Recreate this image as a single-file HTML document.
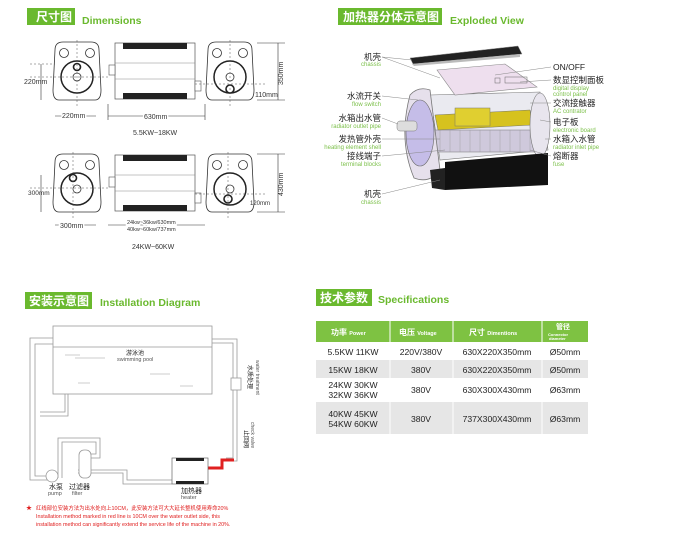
<!DOCTYPE html>
<html><head><meta charset="utf-8"><style>
body{margin:0;background:#fff;width:700px;height:538px;overflow:hidden;font-family:"Liberation Sans","Noto Sans CJK SC",sans-serif}
svg{position:absolute;left:0;top:0}
</style></head><body>
<svg width="700" height="538" viewBox="0 0 700 538" font-family="Liberation Sans, Noto Sans CJK SC, sans-serif">
<defs>
<g id="endv">
<path d="M0,8 Q0,0 8,0 L36,0 Q44,0 44,8 L46,48 Q46,58 40,58 L4,58 Q-2,58 -2,48 Z" fill="#fff" stroke="#333" stroke-width="0.8"/>
<circle cx="9" cy="11" r="4.5" fill="none" stroke="#333" stroke-width="0.8"/>
<circle cx="35" cy="11" r="4.5" fill="none" stroke="#333" stroke-width="0.8"/>
<circle cx="22" cy="35" r="16" fill="none" stroke="#222" stroke-width="1.5"/>
<circle cx="22" cy="35" r="4" fill="none" stroke="#333" stroke-width="0.8"/>
</g>
<g id="body">
<rect x="0" y="0" width="80" height="56" fill="#fff" stroke="#555" stroke-width="0.7"/>
<rect x="8" y="0" width="64" height="6" fill="#222"/>
<rect x="8" y="50" width="64" height="6" fill="#222"/>
<line x1="0" y1="20" x2="80" y2="20" stroke="#888" stroke-width="0.5"/>
<line x1="0" y1="36" x2="80" y2="36" stroke="#888" stroke-width="0.5"/>
<rect x="-6" y="22" width="6" height="10" fill="#fff" stroke="#555" stroke-width="0.6"/>
<rect x="80" y="38" width="6" height="10" fill="#fff" stroke="#555" stroke-width="0.6"/>
</g>
</defs>

<!-- Dimensions -->
<rect x="27" y="8" width="48" height="17" fill="#6ab92e"/>
<text x="36" y="21" font-size="12" font-weight="bold" fill="#fff">尺寸图</text>
<text x="82" y="24" font-size="10.5" font-weight="bold" fill="#6ab92e">Dimensions</text>

<use href="#endv" x="55" y="42"/>
<circle cx="77" cy="67" r="3.5" fill="#fff" stroke="#222" stroke-width="1.6"/>
<use href="#body" x="115" y="43"/>
<use href="#endv" x="208" y="42"/>
<circle cx="230" cy="89" r="4" fill="#fff" stroke="#222" stroke-width="1.6"/>
<g stroke="#555" stroke-width="0.5" stroke-dasharray="2,2" fill="none">
<line x1="77" y1="40" x2="77" y2="106"/><line x1="30" y1="77" x2="110" y2="77"/>
<line x1="230" y1="40" x2="230" y2="106"/><line x1="195" y1="84" x2="265" y2="84"/>
<line x1="30" y1="64" x2="55" y2="64"/>
</g>
<g stroke="#333" stroke-width="0.6">
<line x1="41" y1="64" x2="41" y2="100"/><line x1="55" y1="116" x2="96" y2="116"/>
<line x1="108" y1="116" x2="205" y2="116"/><line x1="278" y1="43" x2="278" y2="100"/>
<line x1="257" y1="43" x2="285" y2="43"/><line x1="257" y1="100" x2="285" y2="100"/>
<line x1="108" y1="104" x2="108" y2="120"/><line x1="205" y1="104" x2="205" y2="120"/>
</g>
<text x="24" y="84" font-size="7" fill="#333">220mm</text>
<text x="62" y="118" font-size="7" fill="#333" stroke="#fff" stroke-width="3" paint-order="stroke">220mm</text>
<text x="144" y="119" font-size="7" fill="#333" stroke="#fff" stroke-width="3" paint-order="stroke">630mm</text>
<text x="133" y="135" font-size="7" fill="#333">5.5KW~18KW</text>
<text x="255" y="97" font-size="7" fill="#333">110mm</text>
<text font-size="7" fill="#333" transform="translate(283,85) rotate(-90)">350mm</text>

<use href="#endv" x="55" y="154"/>
<circle cx="73" cy="178" r="3.5" fill="#fff" stroke="#222" stroke-width="1.6"/>
<use href="#body" x="115" y="155"/>
<use href="#endv" x="208" y="154"/>
<circle cx="228" cy="199" r="4" fill="#fff" stroke="#222" stroke-width="1.6"/>
<g stroke="#555" stroke-width="0.5" stroke-dasharray="2,2" fill="none">
<line x1="73" y1="152" x2="73" y2="218"/><line x1="30" y1="188" x2="110" y2="188"/>
<line x1="228" y1="152" x2="228" y2="218"/><line x1="195" y1="194" x2="265" y2="194"/>
</g>
<g stroke="#333" stroke-width="0.6">
<line x1="41" y1="175" x2="41" y2="212"/><line x1="55" y1="225" x2="96" y2="225"/>
<line x1="108" y1="225" x2="205" y2="225"/><line x1="278" y1="154" x2="278" y2="212"/>
<line x1="257" y1="154" x2="285" y2="154"/><line x1="257" y1="212" x2="285" y2="212"/>
</g>
<text x="28" y="195" font-size="6.5" fill="#333">300mm</text>
<text x="60" y="228" font-size="7" fill="#333" stroke="#fff" stroke-width="3" paint-order="stroke">300mm</text>
<text x="127" y="224" font-size="5.5" fill="#333" stroke="#fff" stroke-width="3" paint-order="stroke">24kw~36kw/630mm</text>
<text x="127" y="231" font-size="5.5" fill="#333">40kw~60kw/737mm</text>
<text x="132" y="249" font-size="7" fill="#333">24KW~60KW</text>
<text x="250" y="205" font-size="6" fill="#333">120mm</text>
<text font-size="7" fill="#333" transform="translate(283,196) rotate(-90)">430mm</text>

<!-- Exploded -->
<rect x="338" y="8" width="104" height="17" fill="#6ab92e"/>
<text x="343" y="21" font-size="12" font-weight="bold" fill="#fff">加热器分体示意图</text>
<text x="450" y="24" font-size="10.5" font-weight="bold" fill="#6ab92e">Exploded View</text>
<polygon points="410,58 518,46 522,54 413,64" fill="#222" stroke="#999" stroke-width="0.5"/>
<polygon points="412,64 520,54 520,57 414,66" fill="#bbb"/>
<!-- body -->
<polygon points="430,95 540,92 548,150 440,160" fill="#eaeaf0" stroke="#777" stroke-width="0.6"/>
<rect x="432" y="130" width="112" height="22" fill="#cfc9dc" stroke="#777" stroke-width="0.5"/>
<g stroke="#999" stroke-width="0.4"><line x1="440" y1="130" x2="440" y2="152"/><line x1="450" y1="130" x2="450" y2="152"/><line x1="460" y1="130" x2="460" y2="152"/><line x1="470" y1="130" x2="470" y2="152"/><line x1="480" y1="130" x2="480" y2="152"/><line x1="490" y1="130" x2="490" y2="152"/><line x1="500" y1="130" x2="500" y2="152"/><line x1="510" y1="130" x2="510" y2="152"/><line x1="520" y1="130" x2="520" y2="152"/><line x1="530" y1="130" x2="530" y2="152"/></g>
<polygon points="435,115 530,110 532,125 438,130" fill="#d6c21e" stroke="#776" stroke-width="0.5"/>
<rect x="455" y="108" width="35" height="18" fill="#e0cf30" stroke="#776" stroke-width="0.5"/>
<polygon points="437,70 505,64 537,87 455,95" fill="#eedfee" stroke="#888" stroke-width="0.6"/>
<rect x="495" y="78" width="5" height="5" fill="none" stroke="#666" stroke-width="0.5"/>
<rect x="505" y="77" width="22" height="6" fill="none" stroke="#666" stroke-width="0.5"/>
<ellipse cx="540" cy="125" rx="10" ry="32" fill="#e8e5ee" stroke="#777" stroke-width="0.6"/>
<!-- end flange -->
<path d="M410,95 Q418,86 430,90 L440,170 Q430,184 414,178 Q398,140 410,95 Z" fill="#e6e0ec" stroke="#777" stroke-width="0.8"/>
<ellipse cx="420" cy="133" rx="14" ry="33" fill="#c5bde8" stroke="#666" stroke-width="0.6"/>
<rect x="397" y="121" width="20" height="10" rx="3" fill="#ddd" stroke="#777" stroke-width="0.5"/>
<!-- bottom chassis -->
<polygon points="445,162 548,153 548,185 445,190" fill="#111"/>
<polygon points="430,170 445,168 445,190 432,188" fill="#222"/>
<g stroke="#888" stroke-width="0.5">
<line x1="382" y1="57" x2="412" y2="60"/><line x1="382" y1="57" x2="440" y2="78"/>
<line x1="382" y1="96" x2="418" y2="100"/><line x1="382" y1="118" x2="398" y2="124"/>
<line x1="382" y1="139" x2="440" y2="139"/><line x1="382" y1="156" x2="445" y2="150"/>
<line x1="382" y1="194" x2="440" y2="180"/>
<line x1="551" y1="67" x2="495" y2="75"/><line x1="551" y1="80" x2="520" y2="82"/>
<line x1="551" y1="103" x2="530" y2="103"/><line x1="551" y1="122" x2="540" y2="120"/>
<line x1="551" y1="139" x2="545" y2="139"/><line x1="551" y1="156" x2="530" y2="150"/>
</g>
<g font-size="8.5" fill="#222" text-anchor="end">
<text x="381" y="60">机壳</text><text x="381" y="99">水流开关</text><text x="381" y="121">水箱出水管</text>
<text x="381" y="142">发热管外壳</text><text x="381" y="159">接线端子</text><text x="381" y="197">机壳</text>
</g>
<g font-size="6" fill="#7cc04a" text-anchor="end">
<text x="381" y="66">chassis</text><text x="381" y="106">flow switch</text><text x="381" y="128">radiator outlet pipe</text>
<text x="381" y="149">heating element shell</text><text x="381" y="166">terminal blocks</text><text x="381" y="204">chassis</text>
</g>
<g font-size="8.5" fill="#222">
<text x="553" y="70">ON/OFF</text><text x="553" y="83">数显控制面板</text><text x="553" y="106">交流接触器</text>
<text x="553" y="125">电子板</text><text x="553" y="142">水箱入水管</text><text x="553" y="159">熔断器</text>
</g>
<g font-size="6" fill="#7cc04a">
<text x="553" y="90">digital display</text><text x="553" y="96">control panel</text><text x="553" y="113">AC contrator</text>
<text x="553" y="132">electronic board</text><text x="553" y="149">radiator inlet pipe</text><text x="553" y="166">fuse</text>
</g>

<!-- Installation -->
<rect x="25" y="292" width="67" height="17" fill="#6ab92e"/>
<text x="29" y="305" font-size="12" font-weight="bold" fill="#fff">安装示意图</text>
<text x="100" y="306" font-size="10.5" font-weight="bold" fill="#6ab92e">Installation Diagram</text>
<g fill="none" stroke="#999" stroke-width="0.8">
<rect x="53" y="326" width="159" height="68"/>
<line x1="53" y1="347" x2="212" y2="347"/>
<path d="M53,338 H30 V480 H50"/><path d="M53,344 H35 V476 H50"/>
<path d="M65,394 V412 H40"/><path d="M68,394 V416 H40"/>
<path d="M212,339 H237 V461 H226"/><path d="M212,343 H233 V458 H226"/>
<path d="M58,478 V438 H100 V458 H85"/><path d="M62,478 V442 H96 V454 H85"/>
<path d="M78,470 H127 V480 H172"/><path d="M78,473 H123 V484 H172"/>
<rect x="231" y="378" width="10" height="12" fill="#fff"/>
<rect x="79" y="450" width="12" height="28" rx="5" fill="#fff"/>
<circle cx="52" cy="476" r="6" fill="#fff"/>
</g>
<path d="M208,468 H222 V460 H234" fill="none" stroke="#e02020" stroke-width="3"/>
<g stroke="#999" stroke-width="0.5">
<line x1="65" y1="355" x2="80" y2="355"/><line x1="75" y1="358" x2="105" y2="358"/>
<line x1="150" y1="374" x2="170" y2="374"/><line x1="78" y1="383" x2="90" y2="383"/><line x1="180" y1="386" x2="193" y2="386"/>
</g>
<rect x="172" y="458" width="36" height="26" fill="#fff" stroke="#666" stroke-width="0.7"/>
<rect x="176" y="458" width="28" height="3" fill="#222"/><rect x="176" y="481" width="28" height="3" fill="#222"/>
<text x="126" y="355" font-size="6" fill="#222">游泳池</text>
<text x="117" y="361" font-size="5.5" fill="#555">swimming pool</text>
<text font-size="6" fill="#222" transform="translate(248,365) rotate(90)">水质处理</text>
<text font-size="5" fill="#555" transform="translate(256,360) rotate(90)">water treatment</text>
<text font-size="6" fill="#222" transform="translate(244,430) rotate(90)">止回阀</text>
<text font-size="5" fill="#555" transform="translate(251,422) rotate(90)">check valve</text>
<text x="49" y="489" font-size="7" fill="#222">水泵</text><text x="48" y="495" font-size="5.5" fill="#555">pump</text>
<text x="69" y="489" font-size="7" fill="#222">过滤器</text><text x="72" y="495" font-size="5.5" fill="#555">filter</text>
<text x="181" y="493" font-size="7" fill="#222">加热器</text><text x="181" y="499" font-size="5.5" fill="#555">heater</text>
<text x="26" y="510" font-size="6" fill="#e02020">★</text>
<text x="36" y="510" font-size="5.4" fill="#e02020">红线部位安装方法为出水处向上10CM，此安装方法可大大延长整机使用寿命20%</text>
<text x="36" y="518" font-size="5.4" fill="#e02020">Installation method marked in red line is 10CM over the water outlet side, this</text>
<text x="36" y="526" font-size="5.4" fill="#e02020">installation method can significantly extend the service life of the machine in 20%.</text>

<!-- Specs -->
<rect x="316" y="289" width="56" height="17" fill="#6ab92e"/>
<text x="320" y="302" font-size="12" font-weight="bold" fill="#fff">技术参数</text>
<text x="378" y="303" font-size="10.5" font-weight="bold" fill="#6ab92e">Specifications</text>
<rect x="316" y="321" width="272" height="21" fill="#7ec242"/>
<rect x="316" y="360" width="272" height="18" fill="#e6e6e6"/>
<rect x="316" y="402" width="272" height="32" fill="#e6e6e6"/>
<g stroke="#fff" stroke-width="1"><line x1="390" y1="321" x2="390" y2="434"/><line x1="453" y1="321" x2="453" y2="434"/><line x1="542" y1="321" x2="542" y2="434"/></g>
<g fill="#fff" font-weight="bold">
<text x="331" y="335" font-size="8">功率 <tspan font-size="5.5">Power</tspan></text>
<text x="399" y="335" font-size="8">电压 <tspan font-size="5.5">Voltage</tspan></text>
<text x="469" y="335" font-size="8">尺寸 <tspan font-size="5.5">Dimentions</tspan></text>
<text x="556" y="329" font-size="7">管径</text>
<text x="548" y="336" font-size="4">Connector</text><text x="549" y="340" font-size="4">diameter</text>
</g>
<g font-size="8.6" fill="#222" text-anchor="middle">
<text x="353" y="355">5.5KW  11KW</text><text x="421" y="355">220V/380V</text><text x="497" y="355">630X220X350mm</text><text x="565" y="355">Ø50mm</text>
<text x="353" y="373">15KW  18KW</text><text x="421" y="373">380V</text><text x="497" y="373">630X220X350mm</text><text x="565" y="373">Ø50mm</text>
<text x="353" y="388">24KW  30KW</text><text x="353" y="398">32KW  36KW</text><text x="421" y="393">380V</text><text x="497" y="393">630X300X430mm</text><text x="565" y="393">Ø63mm</text>
<text x="353" y="417">40KW  45KW</text><text x="353" y="427">54KW  60KW</text><text x="421" y="422">380V</text><text x="497" y="422">737X300X430mm</text><text x="565" y="422">Ø63mm</text>
</g>
</svg>
</body></html>
